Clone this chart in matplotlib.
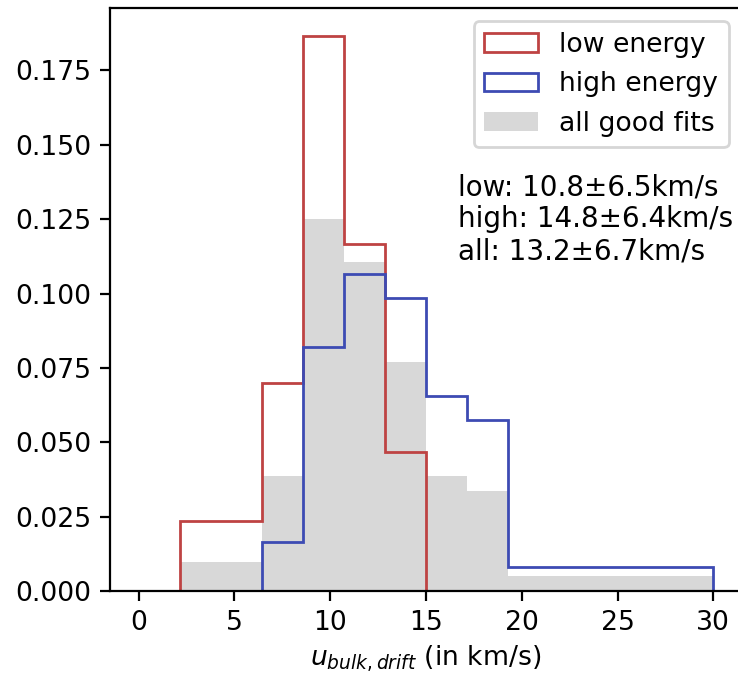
import numpy as np
import matplotlib
matplotlib.use("Agg")
import matplotlib.pyplot as plt

plt.rcParams['font.size'] = 9.6

# Bin edges (km/s)
bin_edges = np.linspace(0, 30, 15)

# Density values per bin
low_energy = [0.0, 0.0235, 0.0235, 0.070, 0.1867, 0.1168, 0.0468,
              0.0, 0.0, 0.0, 0.0, 0.0, 0.0, 0.0]
high_energy = [0.0, 0.0, 0.0, 0.0165, 0.0821, 0.1067, 0.0986,
               0.0656, 0.0575, 0.0081, 0.0081, 0.0081, 0.0081, 0.0081]
all_fits = [0.0, 0.0098, 0.0098, 0.0387, 0.1252, 0.1107, 0.0771,
            0.0387, 0.0336, 0.005, 0.005, 0.005, 0.005, 0.005]

stats_text = "low: 10.8±6.5km/s\nhigh: 14.8±6.4km/s\nall: 13.2±6.7km/s"

fig = plt.figure(figsize=(3.69, 3.37), dpi=200)
W, H = 738, 674
ax = fig.add_axes([110 / W, (H - 591) / H, (742 - 110) / W, (591 - 8) / H])

left = bin_edges[:-1]
ax.hist(left, bins=bin_edges, weights=low_energy, histtype='step',
        color='#be4343', linewidth=1.0, label='low energy', zorder=2)
ax.hist(left, bins=bin_edges, weights=high_energy, histtype='step',
        color='#3d4bb3', linewidth=1.0, label='high energy', zorder=2)
ax.hist(left, bins=bin_edges, weights=all_fits, histtype='bar',
        color='gray', alpha=0.3, label='all good fits', zorder=1)

ax.set_xlim(-1.5, 31.5)
ax.set_ylim(0, 0.196)
ax.set_xticks([0, 5, 10, 15, 20, 25, 30])
ax.set_yticks([0.0, 0.025, 0.05, 0.075, 0.1, 0.125, 0.15, 0.175])
ax.set_yticklabels(['0.000', '0.025', '0.050', '0.075', '0.100', '0.125', '0.150', '0.175'])
ax.tick_params(pad=3.2)

ax.set_xlabel(r'$u_{bulk,drift}$ (in km/s)', labelpad=3.0)
ax.legend(loc='upper right')
ax.text(16.67, 0.1405, stats_text, va='top', ha='left', linespacing=1.2,
        fontsize=10)

fig.savefig('out.png', dpi=200)
